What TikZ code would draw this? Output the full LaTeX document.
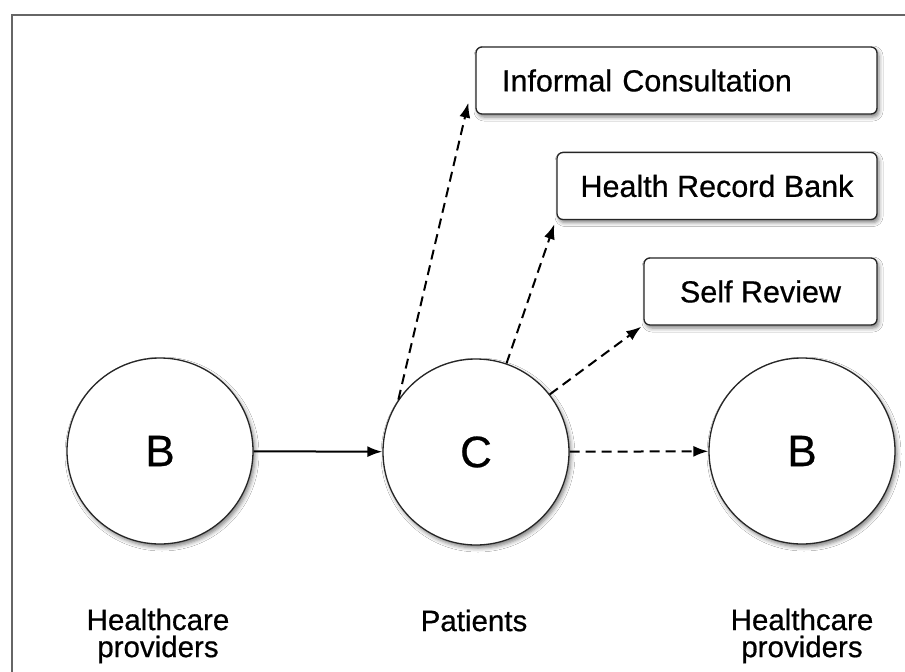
\documentclass[tikz,border=0pt]{standalone}
\usepackage{fontspec}
\setmainfont{Liberation Sans}[FakeBold=0.6]
\usetikzlibrary{arrows.meta,shadows.blur}
\begin{document}
\begin{tikzpicture}[x=1pt,y=-1pt,
  shad/.style={blur shadow={shadow xshift=2pt,shadow yshift=-3pt,shadow blur radius=4pt,shadow opacity=50}},
  circ/.style={circle,draw=black!85,line width=1.3pt,fill=white,minimum size=186pt,inner sep=0pt,font=\fontsize{44}{48}\selectfont,shad},
  box/.style={draw=black!85,line width=1.3pt,fill=white,rounded corners=6pt,minimum height=67pt,inner sep=0pt,font=\fontsize{30.5}{34}\selectfont,shad},
  lbl/.style={font=\fontsize{29.5}{27}\selectfont,align=center,inner sep=0pt,anchor=north},
  arr/.style={line width=2pt,-{Latex[length=15pt,width=11pt]}},
  dsh/.style={arr,dash pattern=on 10pt off 6pt}]
\useasboundingbox (0,0) rectangle (905,672);
\fill[white] (0,0) rectangle (905,672);
\draw[black!60,line width=1.5pt] (905,15) -- (12,15) -- (12,672);

\node[circ] (b1) at (160,451) {B};
\node[circ] (c) at (476,452) {C};
\node[circ] (b2) at (802,451) {B};

\node[box,minimum width=401pt,text width=349pt,align=left] (ic) at (676.5,80.5) {Informal Consultation};
\node[box,minimum width=320pt] (hrb) at (717,186) {Health Record Bank};
\node[box,minimum width=233pt] (sr) at (760.5,291.5) {Self Review};

\node[lbl] (l1) at (158,608.5) {Healthcare\\providers};
\node[lbl] (l2) at (474,609.5) {Patients};
\node[lbl] (l3) at (802,608.5) {Healthcare\\providers};

\draw[arr] (b1) -- (c);
\draw[dsh] (c) -- (b2);
\draw[dsh] (c.146) -- ([xshift=-7pt,yshift=12pt]ic.south west);
\draw[dsh] (c.71) -- ([xshift=-2pt,yshift=-4pt]hrb.south west);
\draw[dsh] (c.38) -- ([xshift=-2pt,yshift=-1pt]sr.south west);
\end{tikzpicture}
\end{document}
